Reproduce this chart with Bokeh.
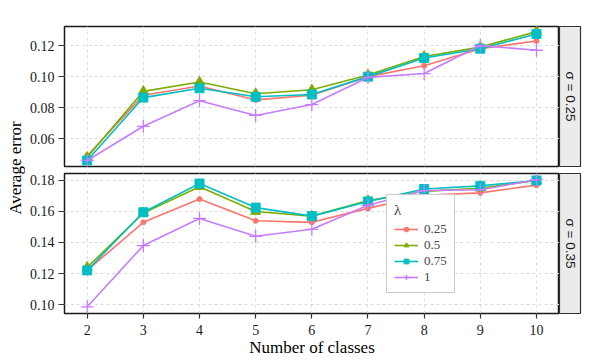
import math
from bokeh.plotting import figure
from bokeh.layouts import row, column
from bokeh.models import (FixedTicker, Label, Legend, LegendItem, Range1d,
                          PrintfTickFormatter)
from bokeh.embed import file_html
from bokeh.resources import INLINE

# ---------------- data ----------------
classes = [2, 3, 4, 5, 6, 7, 8, 9, 10]
lambda_labels = ["0.25", "0.5", "0.75", "1"]

# sigma = 0.25
s25_l025 = [0.049, 0.088, 0.094, 0.085, 0.088, 0.100, 0.107, 0.118, 0.123]
s25_l050 = [0.048, 0.0905, 0.0965, 0.089, 0.0915, 0.101, 0.113, 0.119, 0.129]
s25_l075 = [0.046, 0.0865, 0.0925, 0.087, 0.0885, 0.100, 0.112, 0.118, 0.1275]
s25_l100 = [0.046, 0.068, 0.0845, 0.075, 0.082, 0.0995, 0.102, 0.120, 0.117]

# sigma = 0.35
s35_l025 = [0.122, 0.153, 0.168, 0.154, 0.153, 0.162, 0.1705, 0.172, 0.177]
s35_l050 = [0.124, 0.159, 0.176, 0.160, 0.157, 0.167, 0.173, 0.175, 0.180]
s35_l075 = [0.122, 0.1595, 0.178, 0.1625, 0.157, 0.1665, 0.1745, 0.1765, 0.180]
s35_l100 = [0.0985, 0.138, 0.1555, 0.144, 0.1485, 0.164, 0.1735, 0.174, 0.1805]

top_ticks = [0.06, 0.08, 0.10, 0.12]
bottom_ticks = [0.10, 0.12, 0.14, 0.16, 0.18]
strip_labels = ["σ = 0.25", "σ = 0.35"]

colors = ["#F8766D", "#7CAE00", "#00BFC4", "#C77CFF"]
markers = ["circle", "triangle", "square", "cross"]
msizes = [5, 10, 9, 13]

SERIF = "Liberation Serif"
FRAME_W = 495
FRAME_H = 140
LEFT_B = 39


def make_panel(series, yr, yticks, show_x, top_border, bottom_border):
    p = figure(frame_width=FRAME_W, frame_height=FRAME_H,
               x_range=Range1d(1.596, 10.41), y_range=Range1d(*yr),
               output_backend="svg", toolbar_location=None,
               min_border_left=LEFT_B, min_border_right=0,
               min_border_top=top_border, min_border_bottom=bottom_border,
               background_fill_color="white", border_fill_color="white",
               outline_line_color="#1A1A1A", outline_line_width=1.5)
    p.xaxis.ticker = FixedTicker(ticks=classes)
    p.yaxis.ticker = FixedTicker(ticks=yticks)
    p.yaxis.formatter = PrintfTickFormatter(format="%.2f")
    for ax in [p.xaxis[0], p.yaxis[0]]:
        ax.axis_line_color = None
        ax.major_tick_line_color = "#333333"
        ax.major_tick_line_width = 1.2
        ax.major_tick_in = 0
        ax.minor_tick_line_color = None
        ax.major_label_text_font = SERIF
        ax.major_label_text_font_size = "14px"
        ax.major_label_text_color = "#1A1A1A"
    p.yaxis.major_tick_out = 6
    p.yaxis.major_label_standoff = 4
    p.xaxis.major_tick_out = 5
    p.xaxis.major_label_standoff = 6
    if show_x:
        p.xaxis.axis_label = "Number of classes"
        p.xaxis.axis_label_text_font = SERIF
        p.xaxis.axis_label_text_font_size = "17px"
        p.xaxis.axis_label_text_font_style = "normal"
        p.xaxis.axis_label_text_color = "#000000"
        p.xaxis.axis_label_standoff = 0
    else:
        p.xaxis.visible = False
    for g in [p.xgrid[0], p.ygrid[0]]:
        g.grid_line_color = "#DCDCDC"
        g.grid_line_dash = "3 3"
        g.grid_line_width = 1
    items = []
    for vals, c, m, s, lab in zip(series, colors, markers, msizes, lambda_labels):
        lr = p.line(classes, vals, line_color=c, line_width=1.6)
        if m == "cross":
            sr = p.scatter(classes, vals, marker=m, size=s, line_color=c,
                           line_width=1.3)
        else:
            sr = p.scatter(classes, vals, marker=m, size=s, fill_color=c,
                           line_color=c)
        items.append(LegendItem(label=lab, renderers=[lr, sr]))
    return p, items


def make_strip(text, top_border, bottom_border):
    s = figure(frame_width=21, frame_height=FRAME_H,
               x_range=Range1d(0, 1), y_range=Range1d(0, 1),
               output_backend="svg", toolbar_location=None,
               min_border_left=0, min_border_right=20,
               min_border_top=top_border, min_border_bottom=bottom_border,
               background_fill_color="#EBEBEB", border_fill_color="white",
               outline_line_color="#333333", outline_line_width=1.2,
               x_axis_location=None, y_axis_location=None)
    s.grid.visible = False
    s.add_layout(Label(x=0.5, y=0.5, text=text, angle=-math.pi / 2,
                       text_align="center", text_baseline="middle",
                       text_font="Liberation Sans", text_font_size="13.5px",
                       text_color="#1A1A1A"))
    return s


top, _ = make_panel([s25_l025, s25_l050, s25_l075, s25_l100],
                    (0.0421, 0.1323), top_ticks, False, 26, 3)
bottom, legend_items = make_panel([s35_l025, s35_l050, s35_l075, s35_l100],
                                  (0.0942, 0.1845), bottom_ticks, True, 4, 42)

legend = Legend(items=legend_items, location=(322, 20), title="λ",
                title_text_font=SERIF, title_text_font_size="15px",
                title_text_font_style="normal", title_standoff=2,
                title_text_line_height=0.8,
                label_text_font=SERIF, label_text_font_size="13px",
                label_text_line_height=0.8,
                glyph_width=24, glyph_height=12, label_height=12,
                label_standoff=6, spacing=0, padding=7, margin=0,
                border_line_color="#999999", border_line_width=1,
                background_fill_color="white", background_fill_alpha=1)
bottom.add_layout(legend, "center")

strip1 = make_strip(strip_labels[0], 26, 3)
strip2 = make_strip(strip_labels[1], 4, 42)

ylab = figure(frame_width=25, frame_height=355,
              x_range=Range1d(0, 1), y_range=Range1d(0, 1),
              output_backend="svg", toolbar_location=None,
              min_border=0, outline_line_color=None,
              x_axis_location=None, y_axis_location=None)
ylab.grid.visible = False
ylab.add_layout(Label(x=0.6, y=0.528, text="Average error", angle=math.pi / 2,
                      text_align="center", text_baseline="middle",
                      text_font=SERIF, text_font_size="17px",
                      text_color="#000000"))

layout = row(ylab, column(row(top, strip1), row(bottom, strip2)))

open("out.html", "w").write(file_html(layout, INLINE))
